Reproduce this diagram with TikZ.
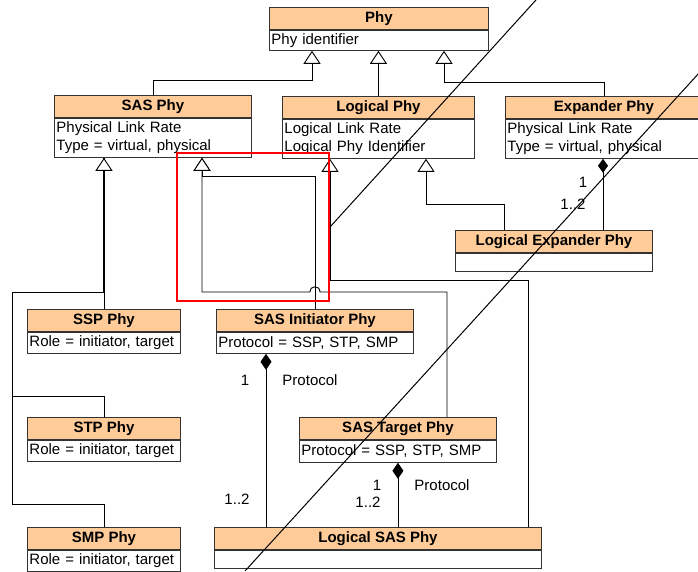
\documentclass[tikz,border=0pt]{standalone}
\usepackage{fontspec}
\setmainfont{Liberation Sans}
\usepackage{tikz}
\usetikzlibrary{arrows.meta}
\definecolor{headfill}{HTML}{FFCC99}

% class box: name, x, y, width, body height, title, attributes
\newcommand{\umlbox}[7]{%
  \node[head,minimum width=#4pt] (#1) at (#2,#3) {#6};
  \node[body,text width=#4pt-4pt,minimum height=#5pt] (#1-b) at (#1.south west) {#7};
}

\begin{document}
\begin{tikzpicture}[x=1pt,y=-1pt,
    every node/.style={font=\fontsize{15}{18}\selectfont},
    head/.style={draw=black!80,line width=0.9pt,fill=headfill,font=\fontsize{15}{18}\selectfont\bfseries,
      minimum height=22pt,inner sep=0pt,anchor=north west},
    body/.style={draw=black!80,line width=0.9pt,fill=white,inner xsep=2pt,inner ysep=0pt,
      align=left,anchor=north west},
    link/.style={draw=black,line width=0.9pt},
    inh/.style={link,-{Triangle[fill=white,width=17pt,length=13pt]}},
    comp/.style={link,{Diamond[width=11pt,length=16pt]}-},
    lbl/.style={inner sep=0pt}]
  \clip (0,0) rectangle (698,571);

  % classes
  \umlbox{phy}{269}{7}{219}{20}{Phy}{Phy identifier}
  \umlbox{sas}{54}{95}{197}{39}{SAS Phy}{Physical Link Rate\\Type = virtual, physical}
  \umlbox{log}{282}{96}{192}{39}{Logical Phy}{Logical Link Rate\\Logical Phy Identifier}
  \umlbox{exp}{505}{96}{197}{39}{Expander Phy}{Physical Link Rate\\Type = virtual, physical}
  \umlbox{lexp}{455}{230}{197}{18}{Logical Expander Phy}{}
  \umlbox{ssp}{27}{309}{153}{21}{SSP Phy}{Role = initiator, target}
  \umlbox{stp}{27}{417}{153}{21}{STP Phy}{Role = initiator, target}
  \umlbox{smp}{27}{527}{153}{21}{SMP Phy}{Role = initiator, target}
  \umlbox{ini}{216}{309}{197}{21}{SAS Initiator Phy}{Protocol = SSP, STP, SMP}
  \umlbox{tgt}{299}{417}{197}{22}{SAS Target Phy}{Protocol = SSP, STP, SMP}
  \umlbox{lsas}{214}{527}{327}{18}{Logical SAS Phy}{}

  % generalisations
  \draw[inh] (sas.north) |- (312,80) -- (phy-b.south -| 312,0);
  \draw[inh] (log.north) -- (phy-b.south -| log.north);
  \draw[inh] (exp.north) |- (444,82) -- (phy-b.south -| 444,0);
  \draw[link] (stp.north) |- (12,396) |- (ssp.north |- 0,292);
  \draw[link] (smp.north) |- (12,504) |- (ssp.north |- 0,292);
  \draw[link,line width=1.6pt] (ssp.north |- 0,292) -- (sas-b.south -| ssp.north);
  \draw[inh] (ssp.north) -- (sas-b.south -| ssp.north);
  \draw[inh] (ini.north) |- (202,176) -- (sas-b.south -| 202,0);
  \draw[inh] (tgt.north -| 447,0) |- (320,292) .. controls (320,285) and (310,285) .. (310,292)
    -| (sas-b.south -| 202,0);
  \draw[inh] (lsas.north -| 528,0) |- (330,280) -- (log-b.south -| 330,0);
  \draw[inh] (lexp.north -| 504,0) |- (426,204) -- (log-b.south -| 426,0);

  % compositions
  \draw[link,{Diamond[width=10pt,length=14pt]}-] (exp-b.south -| 603,0) -- (lexp.north -| 603,0);
  \draw[comp] (ini-b.south -| 266,0) -- (lsas.north -| 266,0);
  \draw[comp] (tgt-b.south) -- (lsas.north -| tgt-b.south);

  % multiplicities and roles
  \node[lbl] (m-exp1) at (583,182) {1};
  \node[lbl] (m-exp2) at (573,204) {1..2};
  \node[lbl] (m-ini1) at (245,380) {1};
  \node[lbl] (r-ini) at (310,380) {Protocol};
  \node[lbl] (m-ini2) at (237,499) {1..2};
  \node[lbl] (m-tgt1) at (377,485) {1};
  \node[lbl] (m-tgt2) at (368,502) {1..2};
  \node[lbl] (r-tgt) at (442,485) {Protocol};

  % markup on top
  \draw[red,line width=1.2pt] (177,153) rectangle (329,301);
  \draw[line width=1pt] (539.6,-4) -- (330,227);
  \draw[line width=1pt] (703.6,68) -- (245,571);
\end{tikzpicture}
\end{document}
